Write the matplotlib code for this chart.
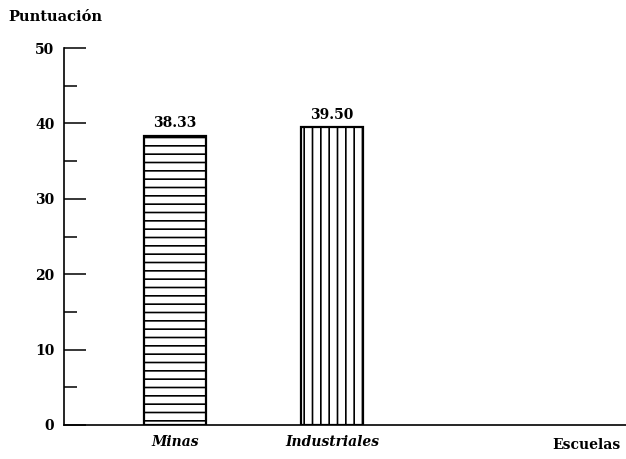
import matplotlib.pyplot as plt
from matplotlib.ticker import MultipleLocator

# Puntuación media por tipo de escuela
categories = ["Minas", "Industriales"]
scores = [38.33, 39.50]
hatches = ["--", "||"]
y_ticks = [0, 10, 20, 30, 40, 50]

plt.rcParams["hatch.linewidth"] = 1.2
plt.rcParams["font.family"] = ["DejaVu Serif"]

fig = plt.figure(figsize=(6.26, 4.59), dpi=100)
ax = fig.add_axes([64 / 626, 34 / 459, 562 / 626, 377 / 459])

x = [1, 2]
bars = ax.bar(x, scores, width=0.40, color="white", edgecolor="black",
              linewidth=1.6, hatch=hatches)

# value labels above the bars
for rect, val in zip(bars, scores):
    ax.annotate(f"{val:.2f}", (rect.get_x() + rect.get_width() / 2, val),
                xytext=(0, 4), textcoords="offset points",
                ha="center", va="bottom", fontsize=10, fontweight="bold")

ax.set_xlim(0.293, 3.873)
ax.set_ylim(0, 50)
ax.set_yticks(y_ticks)
ax.yaxis.set_minor_locator(MultipleLocator(5))
ax.set_xticks(x)
ax.set_xticklabels(categories, fontstyle="italic", fontweight="bold", fontsize=10)
ax.tick_params(axis="x", length=0, pad=7)
ax.tick_params(axis="y", which="major", direction="in", length=16, width=1.1,
               pad=7, labelsize=10)
ax.tick_params(axis="y", which="minor", direction="in", length=9.5, width=1.1)
for lab in ax.get_yticklabels():
    lab.set_fontweight("bold")

ax.spines["top"].set_visible(False)
ax.spines["right"].set_visible(False)
ax.spines["left"].set_linewidth(1.2)
ax.spines["bottom"].set_linewidth(1.2)

# "Escuelas" sits at the right end of the x axis, level with the tick labels
ax.set_xlabel("Escuelas", loc="right", fontweight="bold", fontsize=10)
ax.xaxis.set_label_coords(0.99, -0.035)
fig.text(8 / 626, 1 - 17 / 459, "Puntuación", ha="left", va="center",
         fontsize=10.5, fontweight="bold")

fig.savefig("out.png", dpi=100)
